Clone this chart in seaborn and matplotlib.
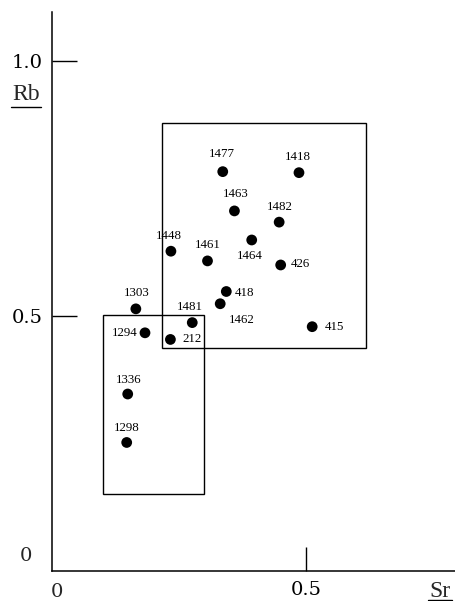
import matplotlib
matplotlib.use("Agg")
import matplotlib.pyplot as plt
import seaborn as sns
import pandas as pd
from matplotlib.patches import Rectangle

# Sample numbers and their Sr / Rb values
samples = ["1477", "1418", "1463", "1482", "1464", "1448", "1461", "426", "418",
           "1462", "1481", "415", "212", "1303", "1294", "1336", "1298"]
sr = [0.336, 0.486, 0.359, 0.447, 0.393, 0.234, 0.306, 0.450, 0.343,
      0.331, 0.276, 0.512, 0.233, 0.165, 0.183, 0.149, 0.147]
rb = [0.783, 0.781, 0.706, 0.684, 0.649, 0.627, 0.608, 0.600, 0.548,
      0.524, 0.487, 0.479, 0.454, 0.514, 0.467, 0.347, 0.252]

# Group boxes: (sr_min, rb_min, sr_max, rb_max)
group_boxes = [(0.217, 0.438, 0.617, 0.878),
               (0.100, 0.150, 0.300, 0.501)]

# Label offsets (pixels) from each point
label_offsets = {
    "1477": (-1, 17.5), "1418": (-1, 16), "1463": (1, 16.5), "1482": (1, 15.5),
    "1464": (-2, -16.5), "1448": (-2, 15), "1461": (0, 16), "426": (20, 0.5),
    "418": (18, -1), "1462": (21.5, -16), "1481": (-2, 16), "415": (22.5, -0.5),
    "212": (21.5, 0.5), "1303": (1, 15.5), "1294": (-20, -0.5), "1336": (0.5, 14),
    "1298": (0.5, 14.5),
}

df = pd.DataFrame({"Sr": sr, "Rb": rb, "sample": samples})

sns.set_style("white")
plt.rcParams["font.family"] = ["Liberation Serif", "DejaVu Serif"]
num_font = ["DejaVu Serif"]

fig = plt.figure(figsize=(4.56, 6.01), dpi=100)
ax = fig.add_axes([52 / 456, 30 / 601, 404 / 456, 559 / 601])

sns.scatterplot(data=df, x="Sr", y="Rb", color="black", s=60,
                edgecolor="none", ax=ax, legend=False)

for name, x, y in zip(samples, sr, rb):
    ax.annotate(name, (x, y), xytext=label_offsets[name],
                textcoords="offset pixels", ha="center", va="center",
                fontsize=9.3, color="black")

for x0, y0, x1, y1 in group_boxes:
    ax.add_patch(Rectangle((x0, y0), x1 - x0, y1 - y0, fill=False,
                           edgecolor="black", linewidth=1.0))

ax.set_xlim(0, 0.795)
ax.set_ylim(0, 1.096)

for side in ["top", "right"]:
    ax.spines[side].set_visible(False)
for side in ["left", "bottom"]:
    ax.spines[side].set_linewidth(1.1)
    ax.spines[side].set_color("black")

ax.set_yticks([0.5, 1.0])
ax.set_yticklabels(["0.5", "1.0"], family=num_font)
ax.set_xticks([0.5])
ax.set_xticklabels(["0.5"], family=num_font)
ax.tick_params(axis="y", left=True, direction="in", length=18, width=1.0,
               pad=6.5, labelsize=14, colors="black")
ax.tick_params(axis="x", bottom=True, direction="in", length=17.5, width=1.0,
               pad=7, labelsize=14, colors="black")
ax.set_xlabel("")
ax.set_ylabel("")

# Origin labels and axis names
ax.text(-0.051, 0.029, "0", ha="center", va="center", fontsize=14,
        family=num_font, clip_on=False)
ax.text(0.0098, -0.041, "0", ha="center", va="center", fontsize=14,
        family=num_font, clip_on=False)
ax.text(-0.051, 0.935, "Rb", ha="center", va="center", fontsize=17, clip_on=False)
ax.plot([-0.081, -0.022], [0.910, 0.910], color="black", lw=1.0, clip_on=False)
ax.text(0.764, -0.041, "Sr", ha="center", va="center", fontsize=17, clip_on=False)
ax.plot([0.740, 0.787], [-0.057, -0.057], color="black", lw=1.0, clip_on=False)

fig.savefig("out.png", dpi=100)
